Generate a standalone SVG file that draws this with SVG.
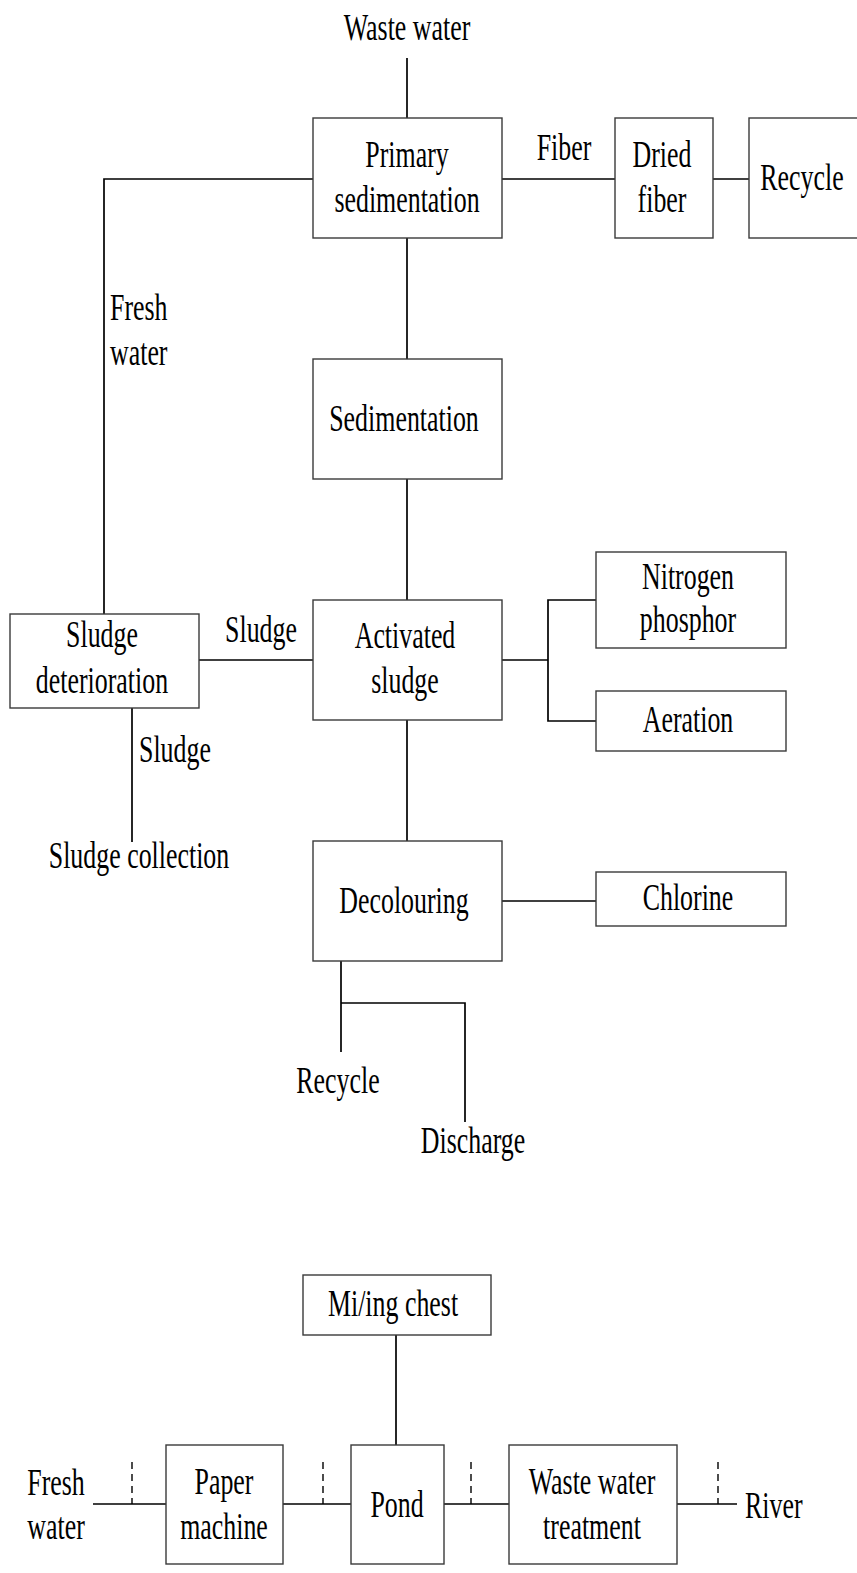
<svg xmlns="http://www.w3.org/2000/svg" width="857" height="1573" viewBox="0 0 857 1573">
  <style>
    .box { fill: #ffffff; stroke: #3a3a3a; stroke-width: 1.4; }
    .wire { fill: none; stroke: #000000; stroke-width: 1.7; }
    .tick { fill: none; stroke: #000000; stroke-width: 1.4; stroke-dasharray: 7 5; }
    text { font-family: "Liberation Serif", "Times New Roman", serif; font-size: 37px; fill: #000000; }
    .c { text-anchor: middle; }
    .s { text-anchor: start; }
  </style>

  <!-- connectors -->
  <g id="connectors">
    <!-- main treatment line -->
    <line class="wire" x1="407" y1="58" x2="407" y2="118"/>
    <line class="wire" x1="407" y1="238" x2="407" y2="359"/>
    <line class="wire" x1="407" y1="479" x2="407" y2="600"/>
    <line class="wire" x1="407" y1="720" x2="407" y2="841"/>
    <!-- fiber recovery -->
    <line class="wire" x1="502" y1="179" x2="615" y2="179"/>
    <line class="wire" x1="713" y1="179" x2="749" y2="179"/>
    <!-- fresh water return -->
    <polyline class="wire" points="313,179 104,179 104,614"/>
    <!-- sludge -->
    <line class="wire" x1="199" y1="660" x2="313" y2="660"/>
    <line class="wire" x1="132" y1="708" x2="132" y2="842"/>
    <!-- nutrient / aeration branch -->
    <line class="wire" x1="502" y1="660" x2="548" y2="660"/>
    <polyline class="wire" points="596,600 548,600 548,721 596,721"/>
    <!-- chlorine -->
    <line class="wire" x1="502" y1="901" x2="596" y2="901"/>
    <!-- outlet split -->
    <line class="wire" x1="341" y1="961" x2="341" y2="1052"/>
    <polyline class="wire" points="341,1003 465,1003 465,1122"/>

    <!-- lower water circuit -->
    <line class="wire" x1="396" y1="1335" x2="396" y2="1445"/>
    <line class="wire" x1="93" y1="1504" x2="166" y2="1504"/>
    <line class="wire" x1="283" y1="1504" x2="351" y2="1504"/>
    <line class="wire" x1="444" y1="1504" x2="509" y2="1504"/>
    <line class="wire" x1="677" y1="1504" x2="737" y2="1504"/>
    <line class="tick" x1="132" y1="1462" x2="132" y2="1504"/>
    <line class="tick" x1="323" y1="1462" x2="323" y2="1504"/>
    <line class="tick" x1="471" y1="1462" x2="471" y2="1504"/>
    <line class="tick" x1="718" y1="1462" x2="718" y2="1504"/>
  </g>

  <!-- free labels -->
  <g id="labels">
    <text class="c" transform="translate(407,40) scale(0.7,1)">Waste water</text>
    <text class="c" transform="translate(564,160) scale(0.7,1)">Fiber</text>
    <text class="s" transform="translate(110,320) scale(0.7,1)">Fresh</text>
    <text class="s" transform="translate(110,365) scale(0.7,1)">water</text>
    <text class="c" transform="translate(261,642) scale(0.7,1)">Sludge</text>
    <text class="s" transform="translate(139,762) scale(0.7,1)">Sludge</text>
    <text class="c" transform="translate(139,868) scale(0.7,1)">Sludge collection</text>
    <text class="c" transform="translate(338,1093) scale(0.7,1)">Recycle</text>
    <text class="c" transform="translate(473,1153) scale(0.7,1)">Discharge</text>
    <text class="c" transform="translate(56,1495) scale(0.7,1)">Fresh</text>
    <text class="c" transform="translate(56,1539) scale(0.7,1)">water</text>
    <text class="s" transform="translate(745,1518) scale(0.7,1)">River</text>
  </g>

  <g id="primary-sedimentation">
    <rect class="box" x="313" y="118" width="189" height="120"/>
    <text class="c" transform="translate(407,167) scale(0.7,1)">Primary</text>
    <text class="c" transform="translate(407,212) scale(0.7,1)">sedimentation</text>
  </g>

  <g id="dried-fiber">
    <rect class="box" x="615" y="118" width="98" height="120"/>
    <text class="c" transform="translate(662,167) scale(0.7,1)">Dried</text>
    <text class="c" transform="translate(662,212) scale(0.7,1)">fiber</text>
  </g>

  <g id="recycle-fiber">
    <rect class="box" x="749" y="118" width="120" height="120"/>
    <text class="c" transform="translate(802,190) scale(0.7,1)">Recycle</text>
  </g>

  <g id="sedimentation">
    <rect class="box" x="313" y="359" width="189" height="120"/>
    <text class="c" transform="translate(404,431) scale(0.7,1)">Sedimentation</text>
  </g>

  <g id="activated-sludge">
    <rect class="box" x="313" y="600" width="189" height="120"/>
    <text class="c" transform="translate(405,648) scale(0.7,1)">Activated</text>
    <text class="c" transform="translate(405,693) scale(0.7,1)">sludge</text>
  </g>

  <g id="sludge-deterioration">
    <rect class="box" x="10" y="614" width="189" height="94"/>
    <text class="c" transform="translate(102,647) scale(0.7,1)">Sludge</text>
    <text class="c" transform="translate(102,693) scale(0.7,1)">deterioration</text>
  </g>

  <g id="nitrogen-phosphor">
    <rect class="box" x="596" y="552" width="190" height="96"/>
    <text class="c" transform="translate(688,589) scale(0.7,1)">Nitrogen</text>
    <text class="c" transform="translate(688,632) scale(0.7,1)">phosphor</text>
  </g>

  <g id="aeration">
    <rect class="box" x="596" y="691" width="190" height="60"/>
    <text class="c" transform="translate(688,732) scale(0.7,1)">Aeration</text>
  </g>

  <g id="decolouring">
    <rect class="box" x="313" y="841" width="189" height="120"/>
    <text class="c" transform="translate(404,913) scale(0.7,1)">Decolouring</text>
  </g>

  <g id="chlorine">
    <rect class="box" x="596" y="872" width="190" height="54"/>
    <text class="c" transform="translate(688,910) scale(0.7,1)">Chlorine</text>
  </g>

  <g id="mixing-chest">
    <rect class="box" x="303" y="1275" width="188" height="60"/>
    <text class="c" transform="translate(393,1316) scale(0.7,1)">Mi/ing chest</text>
  </g>

  <g id="paper-machine">
    <rect class="box" x="166" y="1445" width="117" height="119"/>
    <text class="c" transform="translate(224,1494) scale(0.7,1)">Paper</text>
    <text class="c" transform="translate(224,1539) scale(0.7,1)">machine</text>
  </g>

  <g id="pond">
    <rect class="box" x="351" y="1445" width="93" height="119"/>
    <text class="c" transform="translate(397,1517) scale(0.7,1)">Pond</text>
  </g>

  <g id="waste-water-treatment">
    <rect class="box" x="509" y="1445" width="168" height="119"/>
    <text class="c" transform="translate(592,1494) scale(0.7,1)">Waste water</text>
    <text class="c" transform="translate(592,1539) scale(0.7,1)">treatment</text>
  </g>
</svg>
